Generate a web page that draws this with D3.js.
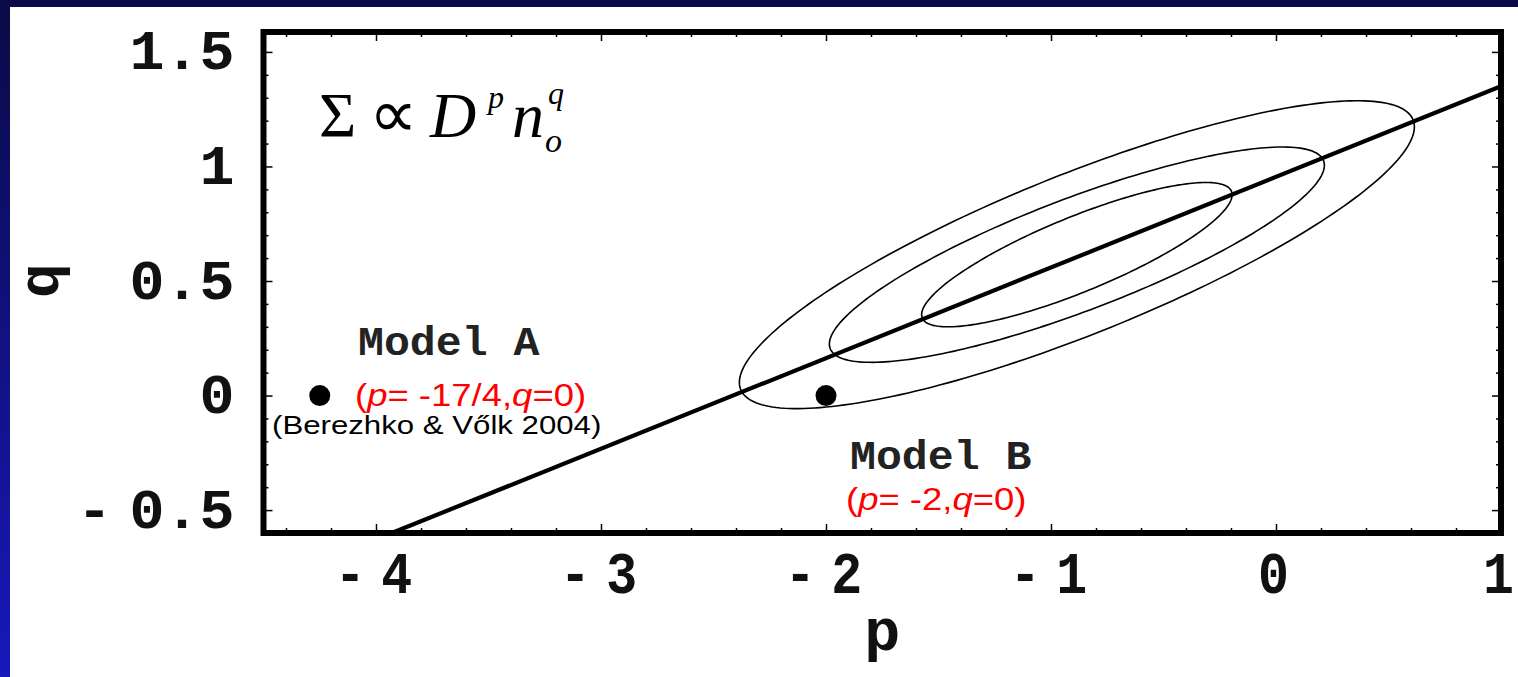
<!DOCTYPE html>
<html>
<head>
<meta charset="utf-8">
<script src="https://cdn.jsdelivr.net/npm/d3@7"></script>
<style>
  body { margin: 0; background: #fff; }
  svg { display: block; }
</style>
</head>
<body>
<svg id="chart" width="1518" height="677"></svg>
<script>
// Power-law fit  Σ ∝ D^p n_o^q : confidence contours in the (p, q) plane

// axes
const pDomain = [-4.5, 1];
const qDomain = [-0.6, 1.587];
const pTicks = [-4, -3, -2, -1, 0, 1];
const qTicks = [-0.5, 0, 0.5, 1, 1.5];

// best fit and its three confidence contours (half-extents along p and q, correlation)
const fitCentre = [-0.885, 0.615];
const contourHalfP = [0.69, 1.10, 1.50];
const contourHalfQ = [0.315, 0.47, 0.672];
const contourCorr = [0.83, 0.83, 0.83];

// degeneracy line through the contours
const lineP = [-3.93, 1.0];
const lineQ = [-0.60, 1.35];

// theoretical models
const modelNames = ["Model A", "Model B"];
const modelP = [-4.25, -2];
const modelQ = [0, 0];
const modelPText = ["-17/4", "-2"];
const modelQText = ["0", "0"];

const W = 1518, H = 677;
const frame = { left: 263.5, right: 1501, top: 32, bottom: 533 };

const svg = d3.select("#chart");
const x = d3.scaleLinear().domain(pDomain).range([frame.left, frame.right]);
const y = d3.scaleLinear().domain(qDomain).range([frame.bottom, frame.top]);

// slide backdrop
const defs = svg.append("defs");
const side = defs.append("linearGradient").attr("id", "sideBlue")
  .attr("x1", 0).attr("y1", 0).attr("x2", 0).attr("y2", 1);
side.append("stop").attr("offset", "0%").attr("stop-color", "#0a0a46");
side.append("stop").attr("offset", "100%").attr("stop-color", "#1818bc");
svg.append("rect").attr("width", W).attr("height", H).attr("fill", "#fff");
svg.append("rect").attr("width", W).attr("height", 7).attr("fill", "#0a0a48");
svg.append("rect").attr("width", 10).attr("height", H).attr("fill", "url(#sideBlue)");

defs.append("clipPath").attr("id", "plotClip").append("rect")
  .attr("x", frame.left).attr("y", frame.top)
  .attr("width", frame.right - frame.left).attr("height", frame.bottom - frame.top);

const plot = svg.append("g").attr("clip-path", "url(#plotClip)");

// confidence contours as correlated ellipses
const contourLine = d3.line().x(d => x(d[0])).y(d => y(d[1])).curve(d3.curveLinearClosed);
function contourPoints(i) {
  const a = contourHalfP[i], b = contourHalfQ[i], r = contourCorr[i];
  const s = Math.sqrt(1 - r * r);
  return d3.range(0, 360, 1.5).map(deg => {
    const t = deg * Math.PI / 180;
    return [fitCentre[0] + a * Math.cos(t),
            fitCentre[1] + b * (r * Math.cos(t) + s * Math.sin(t))];
  });
}
plot.selectAll("path.contour")
  .data(d3.range(contourHalfP.length))
  .join("path")
  .attr("class", "contour")
  .attr("d", i => contourLine(contourPoints(i)))
  .attr("fill", "none")
  .attr("stroke", "#000")
  .attr("stroke-width", 1.6);

// degeneracy line
plot.append("path")
  .datum(d3.zip(lineP, lineQ))
  .attr("d", d3.line().x(d => x(d[0])).y(d => y(d[1])))
  .attr("fill", "none")
  .attr("stroke", "#000")
  .attr("stroke-width", 4.2);

// model points
plot.selectAll("circle.model")
  .data(d3.range(modelNames.length))
  .join("circle")
  .attr("class", "model")
  .attr("cx", i => x(modelP[i]))
  .attr("cy", i => y(modelQ[i]))
  .attr("r", 10.5)
  .attr("fill", "#000");

// frame
svg.append("rect")
  .attr("x", frame.left).attr("y", frame.top)
  .attr("width", frame.right - frame.left).attr("height", frame.bottom - frame.top)
  .attr("fill", "none").attr("stroke", "#000").attr("stroke-width", 6);

// inward frame ticks on all four sides
const pMinor = d3.range(-22, 6).filter(k => k % 5 !== 0).map(k => k / 5);
const qMinor = d3.range(-5, 16).filter(k => k % 5 !== 0).map(k => k / 10);

function frameTicks(axisGen, values, size, translate) {
  const g = svg.append("g")
    .attr("transform", translate)
    .call(axisGen.tickValues(values).tickSize(-size).tickFormat(""));
  g.select(".domain").remove();
  g.selectAll(".tick line").attr("stroke", "#000").attr("stroke-width", 1.5);
  return g;
}
const bottomT = `translate(0,${frame.bottom})`, topT = `translate(0,${frame.top})`;
const leftT = `translate(${frame.left},0)`, rightT = `translate(${frame.right},0)`;
frameTicks(d3.axisBottom(x), pMinor, 5, bottomT);
frameTicks(d3.axisTop(x), pMinor, 5, topT);
frameTicks(d3.axisTop(x), pTicks, 9, topT);
frameTicks(d3.axisLeft(y), qMinor, 5, leftT);
frameTicks(d3.axisRight(y), qMinor, 5, rightT);
frameTicks(d3.axisRight(y), qTicks, 9, rightT);

const fmt = d3.format("~g");
function writeNumber(text, v) {
  text.text(null);
  if (v < 0) {
    text.append("tspan").text("-");
    text.append("tspan").attr("dx", "0.3em").text(fmt(Math.abs(v)));
  } else {
    text.text(fmt(v));
  }
}
const monoFont = "'Liberation Mono', 'Courier New', monospace";

// labelled bottom axis
const xAxisG = svg.append("g")
  .attr("transform", bottomT)
  .call(d3.axisBottom(x).tickValues(pTicks).tickSize(-9).tickFormat(d => d));
xAxisG.select(".domain").remove();
xAxisG.selectAll(".tick line").attr("stroke", "#000").attr("stroke-width", 1.5);
xAxisG.selectAll(".tick text")
  .attr("y", null).attr("dy", null)
  .attr("transform", "translate(-3,60) scale(0.86,1)")
  .attr("fill", "#111")
  .attr("font-family", monoFont)
  .attr("font-weight", "bold")
  .attr("font-size", 60)
  .attr("text-anchor", "middle")
  .each(function (d) { writeNumber(d3.select(this), d); });

// labelled left axis
const yAxisG = svg.append("g")
  .attr("transform", leftT)
  .call(d3.axisLeft(y).tickValues(qTicks).tickSize(-9).tickFormat(d => d));
yAxisG.select(".domain").remove();
yAxisG.selectAll(".tick line").attr("stroke", "#000").attr("stroke-width", 1.5);
yAxisG.selectAll(".tick text")
  .attr("x", null).attr("dy", null)
  .attr("transform", "translate(-29,17) scale(1.06,1)")
  .attr("fill", "#111")
  .attr("font-family", monoFont)
  .attr("font-weight", "bold")
  .attr("font-size", 55)
  .attr("text-anchor", "end")
  .each(function (d) { writeNumber(d3.select(this), d); });

// axis titles
svg.append("text")
  .attr("transform", `translate(${(frame.left + frame.right) / 2},650)`)
  .attr("text-anchor", "middle")
  .attr("fill", "#111")
  .attr("font-family", monoFont).attr("font-weight", "bold").attr("font-size", 60)
  .text("p");
svg.append("text")
  .attr("transform", `translate(58,${(frame.top + frame.bottom) / 2 - 2}) rotate(-90)`)
  .attr("text-anchor", "middle")
  .attr("fill", "#111")
  .attr("font-family", monoFont).attr("font-weight", "bold").attr("font-size", 58)
  .text("q");

// scaling relation
const eq = svg.append("text")
  .attr("font-family", "'Liberation Serif', 'Times New Roman', serif")
  .attr("fill", "#000");
eq.append("tspan").attr("x", 319).attr("y", 137).attr("font-size", 64).text("Σ");
eq.append("tspan").attr("x", 369).attr("y", 137).attr("font-size", 68).text("∝");
eq.append("tspan").attr("x", 430).attr("y", 137).attr("font-size", 64).attr("font-style", "italic").text("D");
eq.append("tspan").attr("x", 488).attr("y", 108).attr("font-size", 32).attr("font-style", "italic").text("p");
eq.append("tspan").attr("x", 512).attr("y", 137).attr("font-size", 64).attr("font-style", "italic").text("n");
eq.append("tspan").attr("x", 548).attr("y", 104).attr("font-size", 32).attr("font-style", "italic").text("q");
eq.append("tspan").attr("x", 545).attr("y", 152).attr("font-size", 34).attr("font-style", "italic").text("o");

// model annotations
const nameAt = [[358, 355], [850, 469]];
const paramAt = [[355, 406], [846, 510]];
modelNames.forEach((name, i) => {
  svg.append("text")
    .attr("transform", `translate(${nameAt[i][0]},${nameAt[i][1]}) scale(1.08,1)`)
    .attr("font-family", monoFont).attr("font-size", 40).attr("font-weight", "bold")
    .attr("fill", "#222")
    .text(name);
  const t = svg.append("text")
    .attr("transform", `translate(${paramAt[i][0]},${paramAt[i][1]}) scale(1.14,1)`)
    .attr("font-family", "'Liberation Sans', Arial, sans-serif").attr("font-size", 32)
    .attr("fill", "#ff0000");
  t.append("tspan").text("(");
  t.append("tspan").attr("font-style", "italic").text("p");
  t.append("tspan").text(`= ${modelPText[i]},`);
  t.append("tspan").attr("font-style", "italic").text("q");
  t.append("tspan").text(`=${modelQText[i]})`);
});
svg.append("text")
  .attr("transform", "translate(272,434) scale(1.2,1)")
  .attr("font-family", "'Liberation Sans', Arial, sans-serif").attr("font-size", 26)
  .attr("fill", "#000")
  .text("(Berezhko & Vőlk 2004)");
</script>
</body>
</html>
